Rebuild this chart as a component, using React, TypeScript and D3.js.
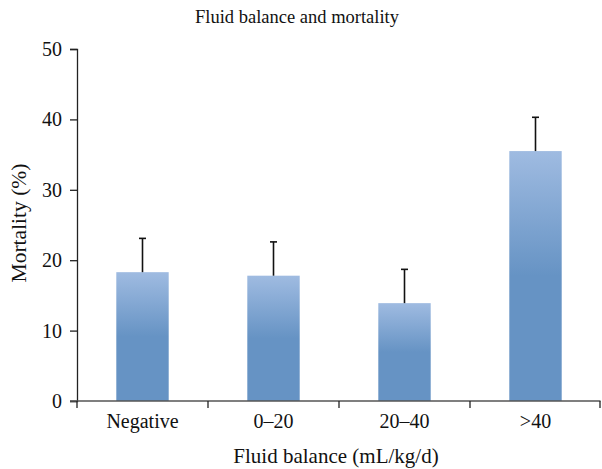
import * as d3 from 'd3';
import { useEffect, useRef } from 'react';

const categories = ['Negative', '0\u201320', '20\u201340', '>40'];
const mortality = [18.3, 17.8, 13.9, 35.5];
const errorTop = [23.1, 22.6, 18.7, 40.3];
const yTicks = [0, 10, 20, 30, 40, 50];

const App = () => {
  const ref = useRef<SVGSVGElement | null>(null);

  useEffect(() => {
    if (!ref.current) return;
    const svg = d3.select(ref.current);
    svg.selectAll('*').remove();

    const width = 602;
    const height = 469;
    const font = '"Liberation Serif", "Times New Roman", serif';

    const x = d3.scaleBand().domain(categories).range([77, 601]).paddingInner(0).paddingOuter(0);
    const y = d3.scaleLinear().domain([0, 50]).range([401, 49]);
    const barW = x.bandwidth() * 0.4;

    const defs = svg.append('defs');
    const grad = defs
      .append('linearGradient')
      .attr('id', 'barGrad')
      .attr('x1', 0)
      .attr('y1', 0)
      .attr('x2', 0)
      .attr('y2', 1);
    grad.append('stop').attr('offset', '0%').attr('stop-color', '#9fbbe1');
    grad.append('stop').attr('offset', '50%').attr('stop-color', '#6693c4');
    grad.append('stop').attr('offset', '100%').attr('stop-color', '#6693c4');

    // bars
    svg
      .selectAll('.bar')
      .data(categories)
      .enter()
      .append('rect')
      .attr('x', d => (x(d) || 0) + x.bandwidth() / 2 - barW / 2)
      .attr('y', (_, i) => y(mortality[i]))
      .attr('width', barW)
      .attr('height', (_, i) => y(0) - y(mortality[i]))
      .attr('fill', 'url(#barGrad)');

    // error bars (upper only)
    const eb = svg.selectAll('.err').data(categories).enter().append('g');
    eb.append('line')
      .attr('x1', d => (x(d) || 0) + x.bandwidth() / 2)
      .attr('x2', d => (x(d) || 0) + x.bandwidth() / 2)
      .attr('y1', (_, i) => y(mortality[i]))
      .attr('y2', (_, i) => y(errorTop[i]))
      .attr('stroke', '#111')
      .attr('stroke-width', 1.6);
    eb.append('line')
      .attr('x1', d => (x(d) || 0) + x.bandwidth() / 2 - 3.5)
      .attr('x2', d => (x(d) || 0) + x.bandwidth() / 2 + 3.5)
      .attr('y1', (_, i) => y(errorTop[i]))
      .attr('y2', (_, i) => y(errorTop[i]))
      .attr('stroke', '#111')
      .attr('stroke-width', 1.6);

    // y axis
    const yAxis = svg
      .append('g')
      .attr('transform', 'translate(77,0)')
      .call(d3.axisLeft(y).tickValues(yTicks).tickSize(7).tickPadding(8));
    yAxis.select('.domain').attr('stroke', '#222').attr('stroke-width', 1.3);
    yAxis.selectAll('.tick line').attr('stroke', '#222').attr('stroke-width', 1.3);
    yAxis.selectAll('.tick text').attr('font-family', font).attr('font-size', 20).attr('fill', '#111');

    // x axis
    const xTickPos = [77, ...categories.map(c => (x(c) || 0) + x.bandwidth())];
    const xAxisG = svg.append('g');
    xAxisG
      .append('line')
      .attr('x1', 70)
      .attr('x2', 600.5)
      .attr('y1', y(0))
      .attr('y2', y(0))
      .attr('stroke', '#555')
      .attr('stroke-width', 1.6);
    xAxisG
      .selectAll('.xt')
      .data(xTickPos)
      .enter()
      .append('line')
      .attr('x1', d => Math.min(d, 600))
      .attr('x2', d => Math.min(d, 600))
      .attr('y1', y(0))
      .attr('y2', y(0) + 7)
      .attr('stroke', '#222')
      .attr('stroke-width', 1.3);
    xAxisG
      .selectAll('.xl')
      .data(categories)
      .enter()
      .append('text')
      .attr('x', d => (x(d) || 0) + x.bandwidth() / 2)
      .attr('y', 428)
      .attr('text-anchor', 'middle')
      .attr('font-family', font)
      .attr('font-size', 20)
      .attr('fill', '#111')
      .text(d => d);

    // titles
    svg
      .append('text')
      .attr('x', 297)
      .attr('y', 23)
      .attr('text-anchor', 'middle')
      .attr('font-family', font)
      .attr('font-size', 18.5)
      .attr('fill', '#111')
      .text('Fluid balance and mortality');

    svg
      .append('text')
      .attr('x', 336)
      .attr('y', 463)
      .attr('text-anchor', 'middle')
      .attr('font-family', font)
      .attr('font-size', 21)
      .attr('fill', '#111')
      .text('Fluid balance (mL/kg/d)');

    svg
      .append('text')
      .attr('transform', 'translate(26,223) rotate(-90)')
      .attr('text-anchor', 'middle')
      .attr('font-family', font)
      .attr('font-size', 21.5)
      .attr('fill', '#111')
      .text('Mortality (%)');

    svg.attr('width', width).attr('height', height);
  }, []);

  return (
    <svg
      ref={ref}
      style={{ position: 'absolute', left: 0, top: 0, background: '#fff', display: 'block' }}
    />
  );
};

export default App;
